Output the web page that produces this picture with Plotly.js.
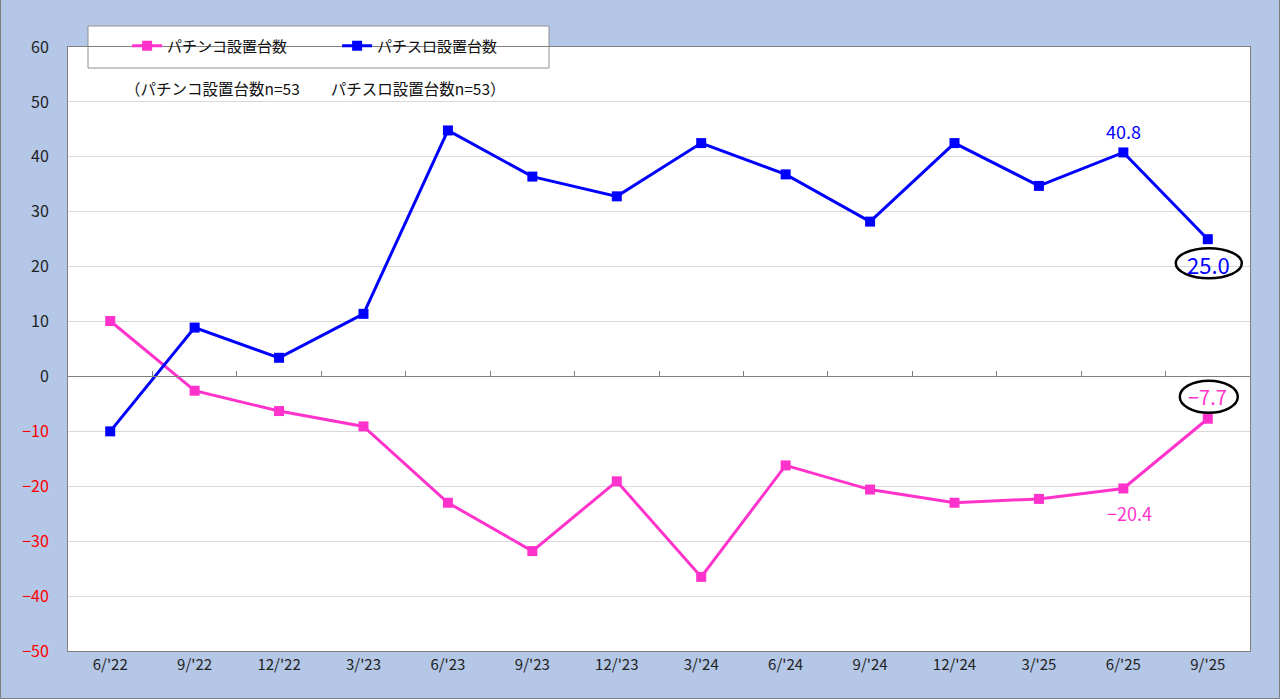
<!DOCTYPE html>
<html>
<head>
<meta charset="utf-8">
<script src="https://cdn.plot.ly/plotly-3.0.1.min.js"></script>
<style>
html,body{margin:0;padding:0;background:#b4c7e7;}
#chart{width:1280px;height:699px;}
</style>
</head>
<body>
<div id="chart"></div>
<script>
const categories = ["6/'22","9/'22","12/'22","3/'23","6/'23","9/'23","12/'23","3/'24","6/'24","9/'24","12/'24","3/'25","6/'25","9/'25"];
const pachinko = [10.1,-2.6,-6.3,-9.1,-23.0,-31.8,-19.1,-36.5,-16.2,-20.6,-23.0,-22.3,-20.4,-7.7];
const pachislot = [-10.0,8.9,3.4,11.4,44.8,36.4,32.8,42.5,36.8,28.2,42.5,34.7,40.8,25.0];
const seriesNames = ["パチンコ設置台数","パチスロ設置台数"];
const yTicks = [60,50,40,30,20,10,0,-10,-20,-30,-40,-50];
const noteText = "（パチンコ設置台数n=53　　パチスロ設置台数n=53）";

const FONT = "'Noto Sans CJK JP', 'Noto Sans', sans-serif";
const PINK = "#ff33cc", BLUE = "#0000ff";

const yTickText = yTicks.map(v => v < 0
  ? '<span style="color:#ff0000">−' + Math.abs(v) + '</span>'
  : String(v));

const last = categories.length - 1;
const traces = [
  {x: categories, y: pachinko, name: seriesNames[0], type: 'scatter', mode: 'lines+markers',
   line: {color: PINK, width: 3}, marker: {symbol: 'square', size: 10, color: PINK}, hoverinfo: 'x+y'},
  {x: categories, y: pachislot, name: seriesNames[1], type: 'scatter', mode: 'lines+markers',
   line: {color: BLUE, width: 3}, marker: {symbol: 'square', size: 10, color: BLUE}, hoverinfo: 'x+y'},
  {x: categories, y: pachinko, xaxis: 'x2', type: 'scatter', mode: 'lines', opacity: 0,
   showlegend: false, hoverinfo: 'skip'}
];

const layout = {
  width: 1280, height: 699,
  margin: {l: 68, r: 30, t: 47, b: 48},
  paper_bgcolor: '#b4c7e7',
  plot_bgcolor: '#ffffff',
  font: {family: FONT, size: 15, color: '#222'},
  showlegend: true,
  legend: {orientation: 'h', x: 0.05, y: (651-46)/604, xanchor: 'left', yanchor: 'middle',
    bgcolor: 'rgba(0,0,0,0)', borderwidth: 0, font: {size: 15, color: '#111', family: FONT},
    entrywidth: 165, entrywidthmode: 'pixels', traceorder: 'normal'},
  xaxis: {type: 'category', categoryarray: categories, range: [-0.5, last + 0.5],
    showgrid: false, showline: true, mirror: true, linecolor: '#808080', linewidth: 1,
    ticks: '', tickfont: {size: 15, color: '#222'}, zeroline: false, fixedrange: true},
  xaxis2: {type: 'category', categoryarray: categories, range: [-0.5, last + 0.5],
    overlaying: 'x', anchor: 'free', position: 50/110, side: 'bottom',
    showgrid: false, showline: true, linecolor: '#808080', linewidth: 1,
    ticks: 'inside', ticklen: 5, tickcolor: '#808080', tickson: 'boundaries',
    showticklabels: false, zeroline: false},
  yaxis: {range: [-50, 60], tickvals: yTicks, ticktext: yTickText,
    showgrid: true, gridcolor: '#d9d9d9', gridwidth: 1,
    showline: true, mirror: true, linecolor: '#808080', linewidth: 1,
    zeroline: false, ticks: '', ticklabelstandoff: 15,
    tickfont: {size: 16, color: '#222'}},
  shapes: [
    {type: 'rect', xref: 'paper', yref: 'paper',
     x0: 20/1182, x1: 481/1182, y0: (651-68)/604, y1: (651-26)/604,
     fillcolor: '#ffffff', line: {color: '#909090', width: 1}, layer: 'below'},
    {type: 'circle', xref: 'x', yref: 'y', xsizemode: 'pixel', ysizemode: 'pixel',
     xanchor: last, yanchor: pachislot[last], x0: -32, x1: 34, y0: -39, y1: -9,
     line: {color: '#000', width: 2.5}},
    {type: 'circle', xref: 'x', yref: 'y', xsizemode: 'pixel', ysizemode: 'pixel',
     xanchor: last, yanchor: pachinko[last], x0: -28, x1: 30, y0: 6, y1: 38,
     line: {color: '#000', width: 2.5}},
    {type: 'rect', xref: 'paper', yref: 'paper',
     x0: -67.5/1182, x1: 1211.5/1182, y0: -47.5/604, y1: 651.5/604,
     line: {color: '#7f7f7f', width: 1}}
  ],
  annotations: [
    {xref: 'paper', yref: 'paper', x: 55/1182, y: (651-88)/604, xanchor: 'left', yanchor: 'middle',
     text: noteText, showarrow: false, font: {size: 15.5, color: '#111', family: FONT}},
    {x: categories[12], y: pachislot[12], text: pachislot[12].toFixed(1), showarrow: false,
     yshift: 21, font: {size: 18, color: BLUE, family: FONT}},
    {x: categories[last], y: pachislot[last], text: pachislot[last].toFixed(1), showarrow: false,
     yshift: -25, xshift: 1, font: {size: 22, color: BLUE, family: FONT}},
    {x: categories[last], y: pachinko[last], text: '−' + Math.abs(pachinko[last]).toFixed(1), showarrow: false,
     yshift: 22, font: {size: 20, color: PINK, family: FONT}},
    {x: categories[12], y: pachinko[12], text: '−' + Math.abs(pachinko[12]).toFixed(1), showarrow: false,
     yshift: -25, xshift: 6, font: {size: 18, color: PINK, family: FONT}}
  ]
};

Plotly.newPlot('chart', traces, layout, {displayModeBar: false, staticPlot: true});
</script>
</body>
</html>
